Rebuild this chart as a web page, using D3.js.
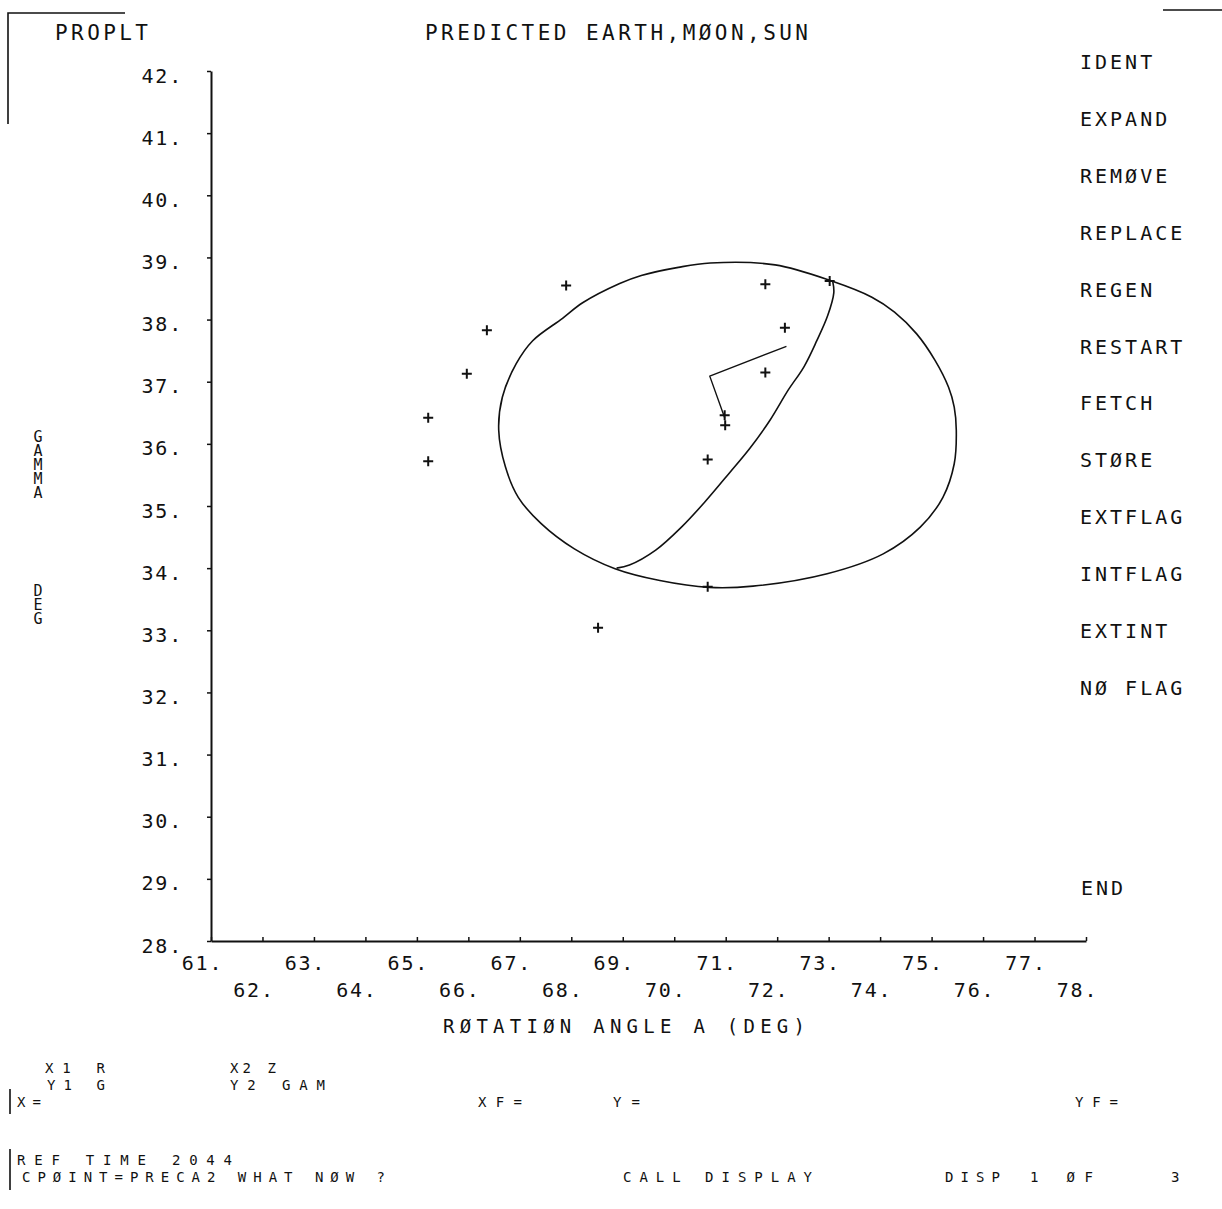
<!DOCTYPE html>
<html>
<head>
<meta charset="utf-8">
<title>PROPLT - PREDICTED EARTH, MOON, SUN</title>
<script src="https://cdn.jsdelivr.net/npm/d3@7"></script>
<style>
  html, body { margin: 0; padding: 0; background: #fff; }
  svg { display: block; }
  text { font-family: "DejaVu Sans Mono", "Liberation Mono", monospace; fill: #111; }
</style>
</head>
<body>
<script>
// ---- data -------------------------------------------------------------
const xTickValues = [61, 62, 63, 64, 65, 66, 67, 68, 69, 70, 71, 72, 73, 74, 75, 76, 77, 78];
const yTickValues = [28, 29, 30, 31, 32, 33, 34, 35, 36, 37, 38, 39, 40, 41, 42];

// plotted "+" observations (rotation angle A, gamma)
const pointA     = [65.22, 65.22, 65.97, 66.36, 67.90, 71.77, 72.15, 71.77, 70.98, 70.99, 70.65, 70.65, 68.52, 73.02];
const pointGamma = [36.42, 35.72, 37.13, 37.83, 38.55, 38.57, 37.87, 37.15, 36.46, 36.30, 35.75, 33.70, 33.04, 38.62];

// disc outline (closed)
const discA = [70.70, 71.96, 73.06, 73.84, 74.28, 74.71, 75.07, 75.33, 75.44, 75.48, 75.44, 75.22,
               74.78, 74.06, 72.97, 71.53, 70.68, 69.72, 68.85, 68.06, 67.41, 66.97, 66.72, 66.59,
               66.66, 66.93, 67.25, 67.83, 68.22, 68.94, 69.36, 70.08];
const discGamma = [38.91, 38.88, 38.62, 38.36, 38.12, 37.77, 37.34, 36.91, 36.59, 36.22, 35.68, 35.14,
                   34.66, 34.23, 33.91, 33.71, 33.69, 33.80, 33.99, 34.31, 34.72, 35.14, 35.63, 36.22,
                   36.75, 37.29, 37.66, 38.02, 38.27, 38.58, 38.71, 38.84];

// terminator arc across the disc
const arcA     = [73.08, 73.10, 72.98, 72.77, 72.52, 72.21, 71.86, 71.47, 71.08, 70.59, 70.14, 69.64, 69.13, 68.88];
const arcGamma = [38.61, 38.43, 38.06, 37.66, 37.24, 36.86, 36.38, 35.93, 35.54, 35.06, 34.66, 34.29, 34.05, 34.00];

// direction vector
const vecA     = [72.18, 70.69, 70.98];
const vecGamma = [37.57, 37.09, 36.42];

// menu entries
const menuItems = ["IDENT", "EXPAND", "REMØVE", "REPLACE", "REGEN", "RESTART", "FETCH",
                   "STØRE", "EXTFLAG", "INTFLAG", "EXTINT", "NØ FLAG"];
const menuLast = "END";

// ---- drawing ------------------------------------------------------------
const W = 1222, H = 1209;
const svg = d3.select("body").append("svg").attr("width", W).attr("height", H);
svg.append("rect").attr("width", W).attr("height", H).attr("fill", "#fff");

const x = d3.scaleLinear().domain([61, 78]).range([211, 1086]);
const y = d3.scaleLinear().domain([28, 42]).range([941, 71]);

const ink = "#111";

function label(txt, px, py, size, opts = {}) {
  const t = svg.append("text")
    .attr("x", px).attr("y", py)
    .attr("font-size", size)
    .attr("letter-spacing", opts.ls != null ? opts.ls : 0)
    .attr("text-anchor", opts.anchor || "start")
    .text(txt);
  if (opts.len) t.attr("textLength", opts.len).attr("lengthAdjust", "spacing");
  return t;
}

// frame corners
svg.append("path").attr("d", "M8,124V13H125").attr("fill", "none").attr("stroke", ink).attr("stroke-width", 1.6);
svg.append("path").attr("d", "M1163,10H1222").attr("fill", "none").attr("stroke", ink).attr("stroke-width", 1.4);
svg.append("path").attr("d", "M10,1089V1114M10,1149V1190").attr("fill", "none").attr("stroke", ink).attr("stroke-width", 1.6);

// titles
label("PROPLT", 55, 40, 21, { len: 93 });
label("PREDICTED EARTH,MØON,SUN", 425, 40, 21, { len: 383 });

// menu
menuItems.forEach((m, i) => label(m, 1080, 69 + i * 56.9, 20, { ls: 3.0 }));
label(menuLast, 1081, 895, 20, { ls: 3.0 });

// y axis
const yAxis = svg.append("g").attr("transform", `translate(${x(61)},0)`)
  .call(d3.axisLeft(y).tickValues(yTickValues).tickSize(4).tickSizeOuter(0)
        .tickPadding(24).tickFormat(d => d + "."));
yAxis.select(".domain").attr("stroke", ink).attr("stroke-width", 2);
yAxis.selectAll(".tick line").attr("stroke", ink).attr("stroke-width", 1.5);
yAxis.selectAll(".tick text")
  .attr("font-family", "DejaVu Sans Mono, monospace")
  .attr("font-size", 20).attr("letter-spacing", 1.8)
  .attr("dy", null).attr("y", 11).attr("fill", ink);

// x axis
const xAxis = svg.append("g").attr("transform", `translate(0,${y(28)})`)
  .call(d3.axisBottom(x).tickValues(xTickValues).tickSize(-4).tickSizeOuter(0)
        .tickFormat(d => d + "."));
xAxis.select(".domain").attr("stroke", ink).attr("stroke-width", 2);
xAxis.selectAll(".tick line").attr("stroke", ink).attr("stroke-width", 1.5);
xAxis.selectAll(".tick text")
  .attr("font-family", "DejaVu Sans Mono, monospace")
  .attr("font-size", 20).attr("letter-spacing", 1.8)
  .attr("dy", null)
  .attr("x", -9)
  .attr("y", d => (d % 2 === 1 ? 29 : 56))
  .attr("fill", ink);

// axis titles
label("RØTATIØN ANGLE A (DEG)", 443, 1033, 19, { len: 362 });

// y title: upright letters stacked top to bottom in one vertical text run
svg.append("text")
  .attr("x", 38).attr("y", 428)
  .attr("font-size", 15)
  .attr("letter-spacing", -4.0)
  .style("writing-mode", "vertical-rl")
  .style("text-orientation", "upright")
  .style("white-space", "pre")
  .text("GAMMA      DEG");

// plot layer
const line = d3.line().x(d => x(d[0])).y(d => y(d[1]));
const plot = svg.append("g").attr("fill", "none").attr("stroke", ink)
  .attr("stroke-width", 1.6).attr("stroke-linejoin", "round");

plot.append("path")
  .attr("d", d3.line().x(d => x(d[0])).y(d => y(d[1])).curve(d3.curveCatmullRomClosed.alpha(0.5))(d3.zip(discA, discGamma)));
plot.append("path")
  .attr("d", d3.line().x(d => x(d[0])).y(d => y(d[1])).curve(d3.curveCatmullRom.alpha(0.5))(d3.zip(arcA, arcGamma)));
plot.append("path").attr("d", line(d3.zip(vecA, vecGamma))).attr("stroke-width", 1.4);

plot.selectAll(".pt").data(d3.zip(pointA, pointGamma)).join("path")
  .attr("class", "pt")
  .attr("transform", d => `translate(${x(d[0])},${y(d[1])})`)
  .attr("d", "M-5,0H5M0,-5V5")
  .attr("stroke-width", 2);

// status lines
const fs = 14;
label("X1 R", 45, 1073, fs, { len: 60 });
label("X2 Z", 230, 1073, fs, { len: 46 });
label("Y1 G", 47, 1090, fs, { len: 58 });
label("Y2 GAM", 230, 1090, fs, { len: 95 });
label("X=", 17, 1107, fs, { len: 24 });
label("XF=", 478, 1107, fs, { len: 44 });
label("Y=", 613, 1107, fs, { len: 27 });
label("YF=", 1075, 1107, fs, { len: 43 });
label("REF TIME 2044", 17, 1165, fs, { len: 215 });
label("CPØINT=PRECA2 WHAT NØW ?", 22, 1182, fs, { len: 363 });
label("CALL DISPLAY", 623, 1182, fs, { len: 189 });
label("DISP", 945, 1182, fs, { len: 55 });
label("1 ØF", 1030, 1182, fs, { len: 63 });
label("3", 1171, 1182, fs);
</script>
</body>
</html>
